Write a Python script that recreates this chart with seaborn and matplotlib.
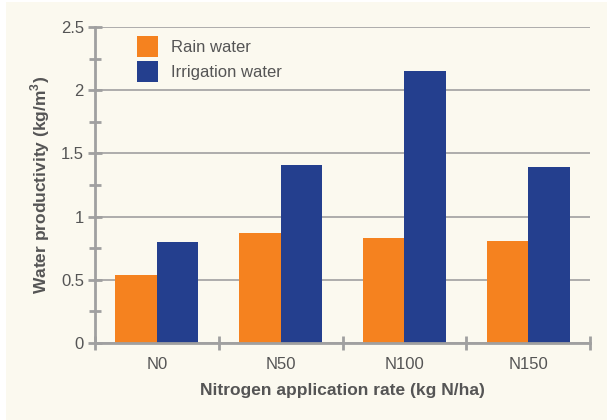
import pandas as pd
import seaborn as sns
from matplotlib import pyplot as plt
from matplotlib.patches import Rectangle

# 데이터
categories = ['N0', 'N50', 'N100', 'N150']
rain_water = [0.54, 0.87, 0.83, 0.81]
irrigation_water = [0.80, 1.41, 2.15, 1.39]
series_names = ['Rain water', 'Irrigation water']
y_ticks = [0, 0.5, 1, 1.5, 2, 2.5]
y_tick_labels = ['0', '0.5', '1', '1.5', '2', '2.5']

df = pd.DataFrame({
    'rate': categories * 2,
    'value': rain_water + irrigation_water,
    'source': [series_names[0]] * 4 + [series_names[1]] * 4,
})

sns.set_style('white')
plt.rcParams['font.family'] = ['Liberation Sans', 'DejaVu Sans']

grey = '#a0a0a0'
text_col = '#555555'
cream = '#fbf9ef'

fig = plt.figure(figsize=(6.07, 4.20), dpi=100, facecolor='white')
fig.patches.append(Rectangle((6 / 607, 0), 1, 1 - 2 / 420, transform=fig.transFigure,
                             facecolor=cream, edgecolor='none', zorder=-10))
ax = fig.add_axes([95 / 607, 1 - 343 / 420, (590 - 95) / 607, (343 - 27) / 420])
ax.patch.set_alpha(0)

sns.barplot(data=df, x='rate', y='value', hue='source', order=categories,
            hue_order=series_names, palette=['#f5821f', '#243f8e'],
            width=0.67, saturation=1, linewidth=0, edgecolor='none',
            ax=ax, zorder=3)

ax.set_ylim(0, 2.5)
ax.set_xlim(-0.5, 3.5)
ax.set_yticks(y_ticks)
ax.set_yticklabels(y_tick_labels)
ax.set_yticks([0.25, 0.75, 1.25, 1.75, 2.25], minor=True)
ax.yaxis.grid(True, color=grey, linewidth=1.2, zorder=0)
ax.set_axisbelow(True)

for s in ['top', 'right']:
    ax.spines[s].set_visible(False)
for s in ['left', 'bottom']:
    ax.spines[s].set_color(grey)
    ax.spines[s].set_linewidth(2)
    ax.spines[s].set_zorder(5)

ax.tick_params(axis='y', which='major', direction='inout', length=10, width=2,
               color=grey, labelcolor=text_col, labelsize=12, pad=3, left=True)
ax.tick_params(axis='y', which='minor', direction='inout', length=8, width=2,
               color=grey, left=True)
ax.set_xticks([0, 1, 2, 3])
ax.set_xticklabels(categories)
ax.set_xticks([-0.5, 0.5, 1.5, 2.5, 3.5], minor=True)
ax.tick_params(axis='x', which='major', length=0, labelcolor=text_col,
               labelsize=12, pad=10)
ax.tick_params(axis='x', which='minor', direction='inout', length=10, width=2,
               color=grey, bottom=True)

ax.set_xlabel('Nitrogen application rate (kg N/ha)', fontsize=12.5,
              fontweight='bold', color=text_col, labelpad=8)
ax.set_ylabel('Water productivity (kg/m$^\\mathregular{3}$)', fontsize=12.5,
              fontweight='bold', color=text_col, labelpad=6)

# 범례: 21px 정사각형 패치, 행 간격 25px
leg = ax.legend(loc='upper left', bbox_to_anchor=(0.085, 0.972), frameon=False,
                borderpad=0, borderaxespad=0,
                handlelength=1.26, handleheight=1.56, handletextpad=0.75,
                labelspacing=0.24, fontsize=12)
for t in leg.get_texts():
    t.set_color(text_col)

fig.savefig('out.png', dpi=100, facecolor=fig.get_facecolor())
